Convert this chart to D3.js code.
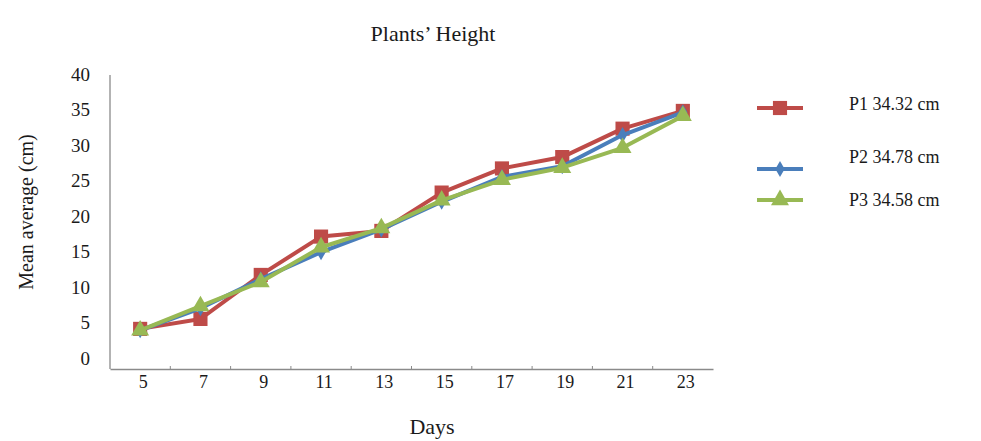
<!DOCTYPE html>
<html>
<head>
<meta charset="utf-8">
<script src="https://cdn.jsdelivr.net/npm/d3@7"></script>
<style>
  body { margin: 0; background: #fff; }
  svg text { font-family: "Liberation Serif", "DejaVu Serif", serif; fill: #1a1a1a; }
</style>
</head>
<body>
<div id="chart"></div>
<script>
// days on the x axis
var DAYS = ["5", "7", "9", "11", "13", "15", "17", "19", "21", "23"];
// mean heights
var P1 = [4.1, 5.5, 11.7, 17.1, 17.9, 23.3, 26.7, 28.3, 32.3, 34.8];
var P2 = [3.9, 7.0, 11.1, 14.9, 18.1, 22.0, 25.5, 27.0, 31.4, 34.6];
var P3 = [3.9, 7.3, 10.7, 15.6, 18.3, 22.2, 25.1, 26.8, 29.6, 34.1];
var SERIES_NAMES = ["P1 34.32 cm", "P2 34.78 cm", "P3 34.58 cm"];
var Y_TICKS = [0, 5, 10, 15, 20, 25, 30, 35, 40];

function drawChart() {
    var width = 981, height = 441;
    var svg = d3.select("#chart").append("svg")
        .attr("width", width)
        .attr("height", height);

    // x scale: one band per day
    var x = d3.scaleBand()
        .domain(DAYS)
        .range([110, 713]);
    // y scale
    var y = d3.scaleLinear()
        .domain([0, 40])
        .range([358, 74]);

    var axisColor = "#8a8a8a";

    // y axis line (runs a bit below zero like the original)
    svg.append("line")
        .attr("x1", 110).attr("x2", 110)
        .attr("y1", 75).attr("y2", 369)
        .attr("stroke", axisColor).attr("stroke-width", 1.3);

    // y tick labels
    var yAxis = svg.append("g")
        .attr("transform", "translate(90,0)")
        .call(d3.axisLeft(y).tickValues(Y_TICKS).tickSize(0).tickPadding(0));
    yAxis.select(".domain").remove();
    yAxis.selectAll("text")
        .attr("font-size", 19)
        .attr("font-family", "Liberation Serif")
        .attr("fill", "#1a1a1a");

    // x axis
    var xAxis = svg.append("g")
        .attr("transform", "translate(0,369)")
        .call(d3.axisBottom(x).tickSize(0).tickPadding(6));
    xAxis.select(".domain").attr("stroke", axisColor).attr("stroke-width", 1.3);
    xAxis.selectAll("text")
        .attr("font-size", 18)
        .attr("font-family", "Liberation Serif")
        .attr("fill", "#1a1a1a")
        .attr("dx", 3);
    // little tick marks between the days
    xAxis.selectAll(".sep")
        .data(DAYS.slice(1))
        .enter()
        .append("line")
        .attr("x1", function (d) { return x(d); })
        .attr("x2", function (d) { return x(d); })
        .attr("y1", -3).attr("y2", 0)
        .attr("stroke", axisColor);

    // titles
    svg.append("text")
        .attr("x", 433).attr("y", 41)
        .attr("text-anchor", "middle")
        .attr("font-size", 22)
        .text("Plants\u2019 Height");
    svg.append("text")
        .attr("x", 432).attr("y", 434)
        .attr("text-anchor", "middle")
        .attr("font-size", 22)
        .text("Days");
    svg.append("text")
        .attr("transform", "translate(33,212) rotate(-90)")
        .attr("text-anchor", "middle")
        .attr("font-size", 20)
        .text("Mean average (cm)");

    var cx = function (d, i) { return x(DAYS[i]) + x.bandwidth() / 2; };
    var line = d3.line()
        .x(function (d, i) { return x(DAYS[i]) + x.bandwidth() / 2; })
        .y(function (d) { return y(d); });

    var series = [
        { name: SERIES_NAMES[0], values: P1, color: "#BE4B48", marker: "square" },
        { name: SERIES_NAMES[1], values: P2, color: "#4A7EBB", marker: "diamond" },
        { name: SERIES_NAMES[2], values: P3, color: "#98B954", marker: "triangle" }
    ];

    function markerPath(kind) {
        if (kind === "square") return d3.symbol().type(d3.symbolSquare).size(200)();
        if (kind === "diamond") return d3.symbol().type(d3.symbolDiamond).size(75)();
        return d3.symbol().type(d3.symbolTriangle).size(140)();
    }

    // draw each series: line then markers
    series.forEach(function (s) {
        svg.append("path")
            .datum(s.values)
            .attr("d", line)
            .attr("fill", "none")
            .attr("stroke", s.color)
            .attr("stroke-width", 4)
            .attr("stroke-linejoin", "round");
        svg.selectAll(null)
            .data(s.values)
            .enter()
            .append("path")
            .attr("d", markerPath(s.marker))
            .attr("transform", function (d, i) { return "translate(" + cx(d, i) + "," + y(d) + ")"; })
            .attr("fill", s.color);
    });

    // legend
    var legendLineY = [108, 169, 200];
    var legendTextY = [104, 157, 200];
    series.forEach(function (s, i) {
        var g = svg.append("g");
        g.append("line")
            .attr("x1", 757).attr("x2", 803)
            .attr("y1", legendLineY[i]).attr("y2", legendLineY[i])
            .attr("stroke", s.color).attr("stroke-width", 4);
        g.append("path")
            .attr("d", markerPath(s.marker))
            .attr("transform", "translate(780," + legendLineY[i] + ")")
            .attr("fill", s.color);
        g.append("text")
            .attr("x", 849).attr("y", legendTextY[i])
            .attr("dy", "0.35em")
            .attr("font-size", 18)
            .text(s.name);
    });
}

window.onload = drawChart;
</script>
</body>
</html>
